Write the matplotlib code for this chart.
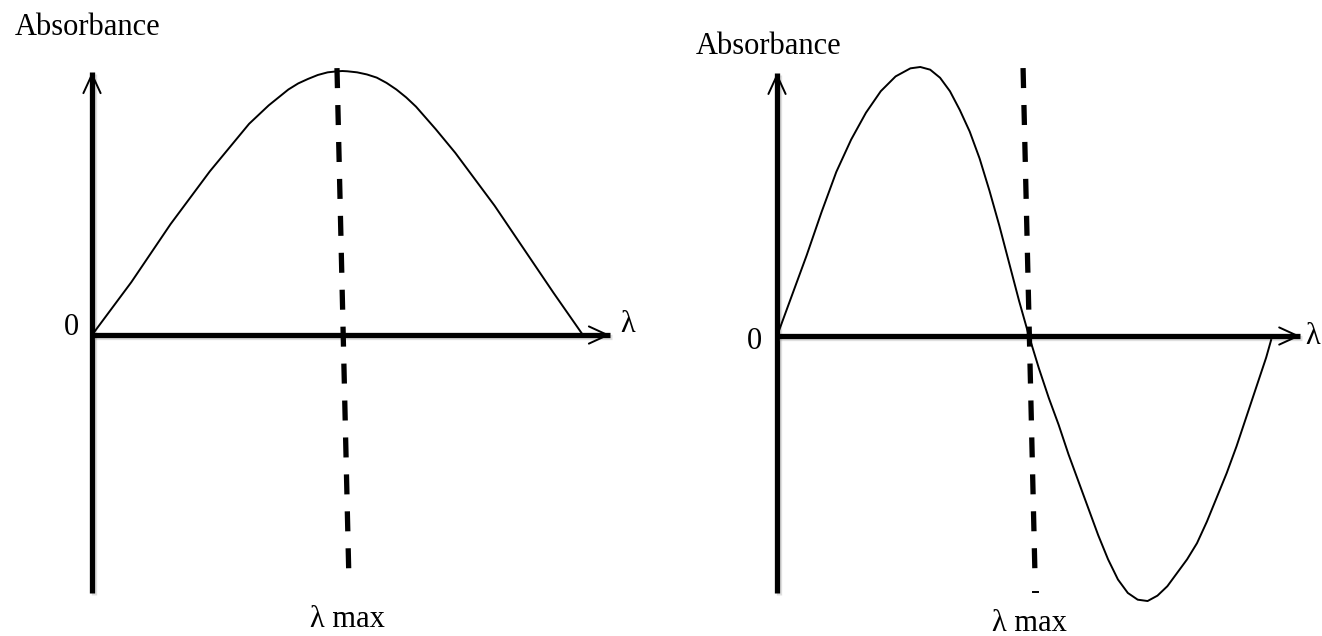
import matplotlib
matplotlib.use("Agg")
import matplotlib.pyplot as plt
import matplotlib.patheffects as pe

plt.rcParams["font.family"] = ["Liberation Serif", "DejaVu Serif"]
plt.rcParams["lines.scale_dashes"] = False

# left panel: single absorption band (x in arbitrary wavelength units, y = absorbance)
band_x = [0, 4, 8, 12, 16, 20, 24, 28, 32, 36, 40, 42, 44, 46, 48, 50, 51, 52, 54, 56,
          58, 60, 62, 64, 66, 70, 74, 78, 82, 86, 90, 94, 97, 100]
band_y = [0, 0.10, 0.20, 0.31, 0.42, 0.52, 0.62, 0.71, 0.80, 0.87, 0.93, 0.953, 0.97, 0.985,
          0.995, 0.999, 1.0, 0.999, 0.995, 0.987, 0.975, 0.955, 0.93, 0.90, 0.865, 0.78,
          0.69, 0.59, 0.49, 0.38, 0.27, 0.16, 0.08, 0.0]

# right panel: derivative-like curve crossing zero at lambda max
deriv_x = [0, 3, 6, 9, 12, 15, 18, 21, 24, 27, 29, 31, 33, 35, 37, 39, 41, 43, 45, 47,
           49, 51, 53, 55, 57, 59, 61, 63, 65, 67, 69, 71, 73, 75, 77, 79, 81, 83, 85,
           87, 89, 91, 93, 95, 97, 99, 100]
deriv_y = [0, 0.15, 0.30, 0.46, 0.61, 0.73, 0.83, 0.91, 0.965, 0.995, 1.0, 0.99, 0.96,
           0.91, 0.84, 0.76, 0.66, 0.54, 0.41, 0.27, 0.13, 0.0, -0.12, -0.23, -0.33,
           -0.44, -0.54, -0.64, -0.74, -0.83, -0.905, -0.955, -0.98, -0.985, -0.965,
           -0.93, -0.88, -0.83, -0.77, -0.69, -0.60, -0.51, -0.41, -0.30, -0.19, -0.08, -0.015]

# lambda max guide lines (slightly tilted, as drawn)
left_lmax_x = [49.9, 52.3]
left_lmax_y = [1.011, -0.90]
right_lmax_x = [49.8, 52.2]
right_lmax_y = [0.996, -0.88]

AXIS_LW = 3.8
FS = 22
shadow = [pe.SimpleLineShadow(offset=(1.2, -1.2), shadow_color="gray", alpha=0.25), pe.Normal()]

fig = plt.figure(figsize=(13.22, 6.36), dpi=100)
axL = fig.add_axes([0, 0, 0.5, 1])
axR = fig.add_axes([0.5, 0, 0.5, 1])

axL.set_xlim(-18.74, 115.9)
axL.set_ylim(-1.140, 1.269)
axR.set_xlim(-23.48, 110.3)
axR.set_ylim(-1.115, 1.249)


def draw_axes(ax, y_top, y_bottom, x_tip):
    ax.plot([0, 0], [y_bottom, y_top], color="black", lw=AXIS_LW,
            solid_capstyle="butt", path_effects=shadow)
    ax.plot([0, x_tip], [0, 0], color="black", lw=AXIS_LW,
            solid_capstyle="butt", path_effects=shadow)
    arrow = dict(arrowstyle="->,head_length=1.35,head_width=0.62", lw=1.4,
                 color="black", shrinkA=0, shrinkB=0, mutation_scale=10)
    ax.annotate("", xy=(0, y_top), xytext=(0, y_top - 0.1), arrowprops=arrow)
    ax.annotate("", xy=(x_tip, 0), xytext=(x_tip - 5, 0), arrowprops=arrow)


for ax in (axL, axR):
    ax.axis("off")

# left panel
draw_axes(axL, 0.996, -0.977, 105.5)
axL.plot(band_x, band_y, color="black", lw=1.4, solid_joinstyle="round")
axL.plot(left_lmax_x, left_lmax_y, color="black", lw=3.8,
         dashes=(14.4, 12.2), dash_capstyle="butt")
axL.text(-1.0, 1.165, "Absorbance", fontsize=FS, ha="center", va="center")
axL.text(-4.1, 0.03, "0", fontsize=FS, ha="center", va="center")
axL.text(109.1, 0.04, "λ", fontsize=FS, ha="center", va="center")
axL.text(52.1, -1.078, "λ max", fontsize=FS, ha="center", va="center")

# right panel
draw_axes(axR, 0.978, -0.955, 105.9)
axR.plot(deriv_x, deriv_y, color="black", lw=1.4, solid_joinstyle="round")
axR.plot(right_lmax_x, right_lmax_y, color="black", lw=3.8,
         dashes=(14.4, 12.2), dash_capstyle="butt")
axR.plot([51.9, 52.9], [-0.95, -0.95], color="black", lw=1.4)
axR.text(-1.8, 1.078, "Absorbance", fontsize=FS, ha="center", va="center")
axR.text(-4.5, -0.02, "0", fontsize=FS, ha="center", va="center")
axR.text(108.4, 0.0, "λ", fontsize=FS, ha="center", va="center")
axR.text(51.0, -1.068, "λ max", fontsize=FS, ha="center", va="center")

fig.savefig("out.png", dpi=100)
